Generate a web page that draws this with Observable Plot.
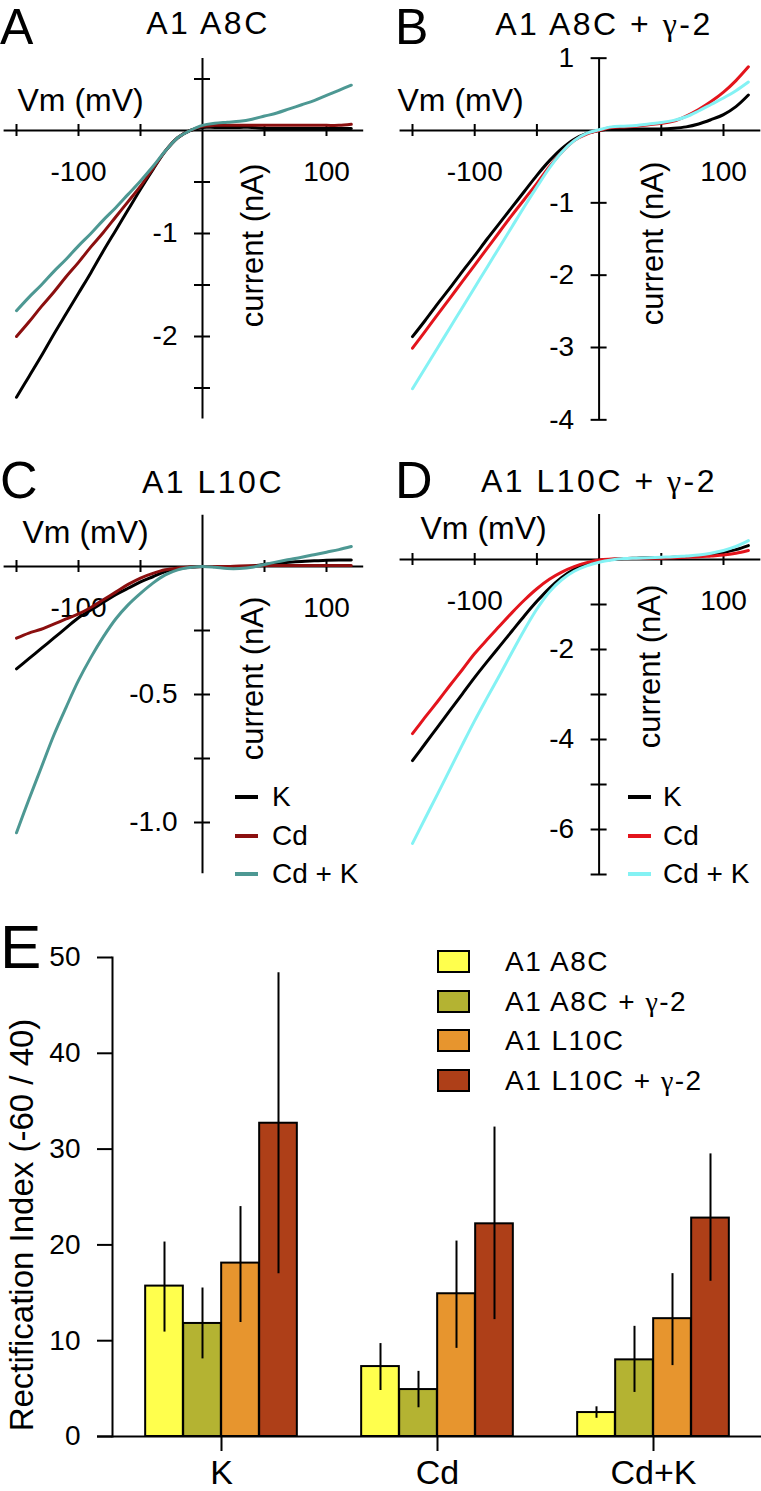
<!DOCTYPE html>
<html><head><meta charset="utf-8">
<script src="https://cdn.jsdelivr.net/npm/d3@7"></script>
<script src="https://cdn.jsdelivr.net/npm/@observablehq/plot@0.6"></script>
<style>
body{margin:0;background:#fff;}
#fig{position:relative;width:761px;height:1491px;overflow:hidden;font-family:"Liberation Sans",Arial,sans-serif;color:#000;background:#fff;}
.abs{position:absolute;line-height:1;white-space:nowrap;}
.g{font-family:"Liberation Serif","DejaVu Serif",serif;}
</style></head><body><div id="fig"></div>
<script>
// ---------- data: I-V curves (Vm in mV, current in nA) ----------
const vm = [-150,-140,-130,-120,-110,-100,-90,-80,-70,-60,-50,-40,-30,-20,-10,0,10,20,30,40,50,60,70,80,90,100,110,120];
const seriesNames = ["K", "Cd", "Cd + K"];

const A_K   = [-2.59,-2.39,-2.19,-1.98,-1.78,-1.58,-1.38,-1.17,-0.97,-0.77,-0.57,-0.38,-0.20,-0.07,0.00,0.03,0.03,0.03,0.03,0.03,0.02,0.02,0.02,0.02,0.02,0.02,0.02,0.02];
const A_Cd  = [-2.00,-1.86,-1.71,-1.57,-1.42,-1.28,-1.13,-0.99,-0.84,-0.69,-0.54,-0.37,-0.20,-0.07,0.00,0.04,0.05,0.05,0.05,0.05,0.05,0.05,0.05,0.05,0.05,0.05,0.05,0.06];
const A_CdK = [-1.75,-1.62,-1.50,-1.37,-1.25,-1.12,-1.00,-0.87,-0.75,-0.62,-0.49,-0.35,-0.20,-0.07,0.00,0.05,0.07,0.08,0.09,0.11,0.14,0.17,0.21,0.25,0.29,0.34,0.39,0.44];

const B_K   = [-2.85,-2.63,-2.40,-2.18,-1.95,-1.73,-1.50,-1.28,-1.06,-0.84,-0.62,-0.42,-0.25,-0.12,-0.04,0.00,0.02,0.02,0.02,0.02,0.02,0.03,0.05,0.09,0.15,0.22,0.33,0.49];
const B_Cd  = [-3.01,-2.78,-2.55,-2.32,-2.09,-1.86,-1.63,-1.40,-1.17,-0.95,-0.73,-0.50,-0.30,-0.14,-0.05,0.00,0.04,0.05,0.06,0.08,0.10,0.13,0.20,0.29,0.40,0.53,0.69,0.88];
const B_CdK = [-3.57,-3.29,-3.01,-2.73,-2.45,-2.17,-1.89,-1.61,-1.33,-1.05,-0.78,-0.52,-0.30,-0.14,-0.04,0.01,0.05,0.06,0.07,0.09,0.11,0.14,0.19,0.27,0.36,0.45,0.55,0.67];

const C_K   = [-0.40,-0.36,-0.32,-0.28,-0.24,-0.20,-0.17,-0.14,-0.11,-0.085,-0.06,-0.04,-0.02,-0.008,-0.003,0,0,-0.002,-0.002,0.002,0.008,0.013,0.017,0.020,0.022,0.024,0.025,0.025];
const C_Cd  = [-0.28,-0.26,-0.245,-0.225,-0.205,-0.185,-0.16,-0.13,-0.10,-0.07,-0.045,-0.027,-0.013,-0.006,-0.002,0,0,0,0.002,0.003,0.004,0.004,0.004,0.004,0.004,0.004,0.004,0.004];
const C_CdK = [-1.04,-0.91,-0.785,-0.66,-0.55,-0.445,-0.355,-0.275,-0.205,-0.15,-0.105,-0.065,-0.033,-0.013,-0.004,0,-0.003,-0.008,-0.008,-0.003,0.008,0.018,0.027,0.036,0.046,0.056,0.066,0.078];

const D_K   = [-4.47,-4.10,-3.73,-3.36,-2.99,-2.62,-2.27,-1.93,-1.59,-1.25,-0.93,-0.64,-0.40,-0.22,-0.10,-0.03,0.00,0.02,0.03,0.04,0.04,0.05,0.06,0.08,0.11,0.16,0.22,0.31];
const D_Cd  = [-3.87,-3.51,-3.16,-2.80,-2.45,-2.09,-1.78,-1.48,-1.18,-0.90,-0.65,-0.44,-0.28,-0.16,-0.07,-0.01,0.01,0.02,0.02,0.03,0.03,0.04,0.05,0.06,0.08,0.10,0.14,0.20];
const D_CdK = [-6.31,-5.76,-5.22,-4.67,-4.12,-3.58,-3.07,-2.57,-2.06,-1.56,-1.10,-0.72,-0.45,-0.26,-0.14,-0.06,-0.01,0.02,0.03,0.04,0.05,0.06,0.08,0.10,0.14,0.20,0.29,0.42];

// axis ticks / tick labels
const xTicks = [-150,-100,-50,50,100];
const xTickLabels = [-100,100];
const yTicksA = [0.5,-0.5,-1,-1.5,-2,-2.5];   const yLabelsA = [-1,-2];
const yTicksB = [1,-1,-2,-3,-4];               const yLabelsB = [1,-1,-2,-3,-4];
const yTicksC = [-0.25,-0.5,-0.75,-1];         const yLabelsC = [-0.5,-1.0];
const yTicksD = [-1,-2,-3,-4,-5,-6,-7];        const yLabelsD = [-2,-4,-6];

// ---------- data: rectification index (panel E) ----------
const categories = ["K", "Cd", "Cd+K"];
const constructs = ["A1 A8C", "A1 A8C + γ-2", "A1 L10C", "A1 L10C + γ-2"];
const meanK   = [15.7, 11.8, 18.1, 32.7];
const lowK    = [10.9,  8.1, 11.9, 17.0];
const highK   = [20.3, 15.5, 24.0, 48.4];
const meanCd  = [ 7.3,  4.9, 14.9, 22.2];
const lowCd   = [ 4.8,  3.0,  9.2, 12.2];
const highCd  = [ 9.7,  6.8, 20.4, 32.3];
const meanCdK = [ 2.5,  8.0, 12.3, 22.8];
const lowCdK  = [ 1.9,  4.6,  7.4, 16.2];
const highCdK = [ 3.1, 11.5, 17.0, 29.5];
const yTicksE = [0,10,20,30,40,50];

// ---------- styles ----------
const darkColors  = ["#000000", "#8b0f0f", "#4d9893"];
const brightColors = ["#000000", "#e3141c", "#84f2f4"];
const barColors = ["#ffff4d", "#b4b332", "#e7952e", "#ae3f18"];
const FONT = '"Liberation Sans", Arial, sans-serif';

const fig = document.getElementById("fig");

function addText(html, o) {
  const d = document.createElement("div");
  d.className = "abs";
  d.innerHTML = html;
  d.style.fontSize = o.size + "px";
  d.style.top = (o.baseline - 0.8465 * o.size) + "px";
  if (o.center != null) { d.style.left = (o.center - 200) + "px"; d.style.width = "400px"; d.style.textAlign = "center"; }
  else d.style.left = o.left + "px";
  if (o.ls) d.style.letterSpacing = o.ls + "px";
  fig.appendChild(d);
}
function addBox(o) {
  const d = document.createElement("div");
  d.style.position = "absolute";
  d.style.left = o.left + "px"; d.style.top = o.top + "px";
  d.style.width = o.w + "px"; d.style.height = o.h + "px";
  d.style.background = o.fill;
  if (o.border) { d.style.border = o.border; d.style.boxSizing = "border-box"; }
  fig.appendChild(d);
}
function place(node, left, top) {
  const w = document.createElement("div");
  w.style.position = "absolute"; w.style.left = left + "px"; w.style.top = top + "px";
  w.appendChild(node); fig.appendChild(w);
}

function ivPanel(p) {
  const rows = p.series.flatMap((vals, s) => vm.map((v, i) => ({vm: v, cur: vals[i], key: seriesNames[s]})));
  const chart = Plot.plot({
    width: p.w, height: p.h, margin: 0,
    style: {background: "transparent", overflow: "visible", fontFamily: FONT},
    x: {domain: [-150, 100], range: p.xr, axis: null},
    y: {domain: p.yDom, range: p.yRan, axis: null},
    color: {domain: seriesNames, range: p.colors},
    marks: [
      Plot.ruleY([0], {x1: p.xExt[0], x2: p.xExt[1], strokeWidth: 2}),
      Plot.ruleX([0], {y1: p.yExt[0], y2: p.yExt[1], strokeWidth: 2}),
      Plot.ruleX(xTicks, {x: d => d, y1: 0, y2: 0, insetTop: -6, insetBottom: -6, strokeWidth: 2}),
      Plot.ruleY(p.yTicks, {y: d => d, x1: 0, x2: 0, insetLeft: -8, insetRight: -8, strokeWidth: 2}),
      Plot.text(xTickLabels, {x: d => d, y: 0, text: d => String(d), dy: 42, fontSize: 28}),
      Plot.text(p.yLabels, {x: 0, y: d => d, text: p.fmt, textAnchor: "end", dx: -25, fontSize: 28}),
      Plot.text(["Vm (mV)"], {frameAnchor: "top-left", dx: p.vmPos[0], dy: p.vmPos[1], textAnchor: "start", lineAnchor: "bottom", fontSize: 32}),
      Plot.text(["current (nA)"], {frameAnchor: "top-left", dx: p.curPos[0], dy: p.curPos[1], rotate: -90, textAnchor: "middle", lineAnchor: "middle", fontSize: 31}),
      Plot.line(rows, {x: "vm", y: "cur", z: "key", stroke: "key", strokeWidth: 3, curve: "catmull-rom"})
    ]
  });
  place(chart, p.left, p.top);
}

ivPanel({left: 0, top: 0, w: 380, h: 420, xr: [16, 326], yDom: [0, -2], yRan: [130, 336],
  xExt: [-160, 130], yExt: [0.7, -2.8], yTicks: yTicksA, yLabels: yLabelsA, fmt: d => String(d),
  series: [A_K, A_Cd, A_CdK], colors: darkColors, vmPos: [17, 110], curPos: [253, 245]});
ivPanel({left: 380, top: 0, w: 381, h: 420, xr: [32, 343], yDom: [0, -3], yRan: [130, 347],
  xExt: [-160, 130], yExt: [1, -4], yTicks: yTicksB, yLabels: yLabelsB, fmt: d => String(d),
  series: [B_K, B_Cd, B_CdK], colors: brightColors, vmPos: [17, 110], curPos: [273, 243]});
ivPanel({left: 0, top: 420, w: 380, h: 460, xr: [16, 326], yDom: [0, -1], yRan: [146, 402],
  xExt: [-160, 130], yExt: [0.2, -1.2], yTicks: yTicksC, yLabels: yLabelsC, fmt: d => d.toFixed(1),
  series: [C_K, C_Cd, C_CdK], colors: darkColors, vmPos: [22, 122], curPos: [253, 258]});
ivPanel({left: 380, top: 420, w: 381, h: 460, xr: [32, 343], yDom: [0, -6], yRan: [139, 409],
  xExt: [-160, 130], yExt: [1, -7], yTicks: yTicksD, yLabels: yLabelsD, fmt: d => String(d),
  series: [D_K, D_Cd, D_CdK], colors: brightColors, vmPos: [40, 118], curPos: [270, 246]});

// ---------- panel E ----------
const means = [meanK, meanCd, meanCdK], lows = [lowK, lowCd, lowCdK], highs = [highK, highCd, highCdK];
const bars = categories.flatMap((c, ci) => constructs.map((s, si) => ({cat: c, construct: s, mean: means[ci][si], lo: lows[ci][si], hi: highs[ci][si]})));
const bandW = (761 - 112) / categories.length;
const barW = 38, groupOff = (bandW - 4 * barW) / 2;
const chartE = Plot.plot({
  width: 761, height: 631, marginLeft: 112, marginRight: 0, marginTop: 97, marginBottom: 55,
  style: {background: "transparent", overflow: "visible", fontFamily: FONT},
  x: {domain: categories, padding: 0},
  y: {domain: [0, 50]},
  color: {domain: constructs, range: barColors},
  marks: [
    ...constructs.map((s, si) => Plot.barY(bars.filter(d => d.construct === s), {
      x: "cat", y1: 0, y2: "mean", fill: "construct", stroke: "black", strokeWidth: 2,
      insetLeft: groupOff + si * barW, insetRight: bandW - groupOff - (si + 1) * barW})),
    ...constructs.map((s, si) => Plot.ruleX(bars.filter(d => d.construct === s), {
      x: "cat", y1: "lo", y2: "hi", strokeWidth: 2, dx: groupOff + (si + 0.5) * barW - bandW / 2})),
    Plot.ruleY([0], {insetLeft: -15, strokeWidth: 2}),
    Plot.frame({anchor: "left", strokeWidth: 2}),
    Plot.axisY({ticks: yTicksE, tickSize: 15, tickPadding: 17, fontSize: 28, strokeWidth: 2, label: null, tickFormat: d => String(d)}),
    Plot.axisX({tickSize: 15, tickPadding: 8, fontSize: 34, strokeWidth: 2, label: null}),
    Plot.text(["Rectification Index (-60 / 40)"], {frameAnchor: "top-left", dx: 22 - 112, dy: 364.5 - 97, rotate: -90, textAnchor: "middle", lineAnchor: "middle", fontSize: 33})
  ]
});
place(chartE, 0, 860);

// ---------- titles, panel letters, legends ----------
const G = '<span class="g">γ</span>';
addText("A", {left: 0, baseline: 44, size: 50});
addText("B", {left: 395, baseline: 44, size: 50});
addText("C", {left: 0, baseline: 498, size: 52});
addText("D", {left: 395, baseline: 498, size: 52});
addText("E", {left: 0, baseline: 968, size: 62});
addText("A1 A8C", {center: 208, baseline: 34, size: 32, ls: 2.5});
addText("A1 A8C + " + G + "-2", {center: 604, baseline: 35, size: 32, ls: 2.5});
addText("A1 L10C", {center: 213, baseline: 493, size: 32, ls: 2.5});
addText("A1 L10C + " + G + "-2", {center: 599, baseline: 492, size: 32, ls: 2.5});

[[0, darkColors, 235, 272], [1, brightColors, 628, 663]].forEach(([k, cols, lx, tx]) => {
  seriesNames.forEach((name, i) => {
    addBox({left: lx, top: 795 + i * 38.5, w: 23, h: 4, fill: cols[i]});
    addText(name, {left: tx, baseline: 807 + i * 38.5, size: 28});
  });
});
constructs.forEach((name, i) => {
  addBox({left: 437, top: 950 + i * 39.5, w: 33, h: 23, fill: barColors[i], border: "2px solid #000"});
  addText(name.replace("γ", G), {left: 505, baseline: 972 + i * 39.5, size: 28, ls: 1.5});
});
</script></body></html>
